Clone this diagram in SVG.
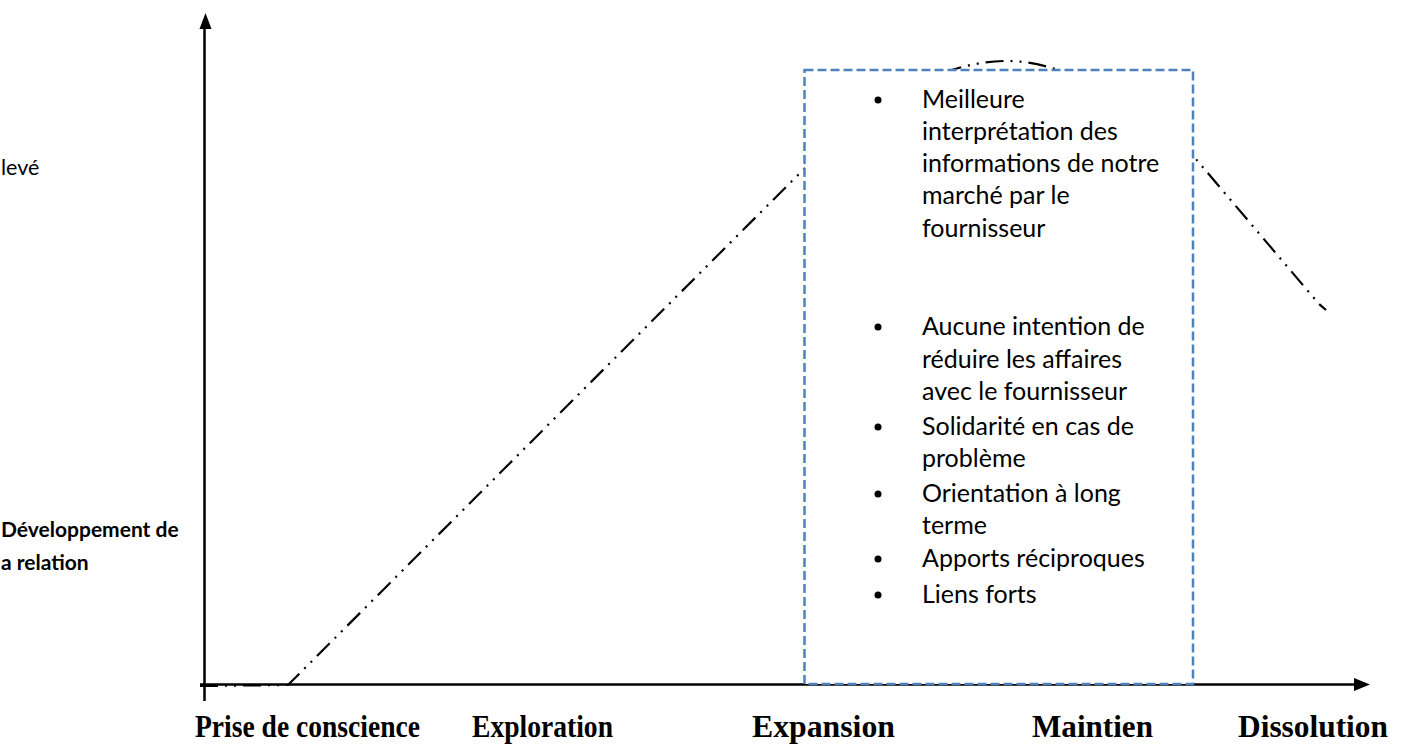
<svg xmlns="http://www.w3.org/2000/svg" width="1402" height="745" viewBox="0 0 1402 745">
<style>
.axis{stroke:#000;stroke-width:2.5;fill:none}
.curve{stroke:#000;stroke-width:2.2;fill:none;stroke-dasharray:18 7 2 7 2 7}
.box{fill:#fff;stroke:#4F81BD;stroke-width:2.5;stroke-dasharray:9 4}
.item{font-family:Lato,"Liberation Sans",sans-serif;font-size:25px;fill:#000}
.side{font-family:Lato,"Liberation Sans",sans-serif;font-size:21.5px;fill:#000}
.sideb{font-family:Lato,"Liberation Sans",sans-serif;font-size:21px;font-weight:bold;fill:#000}
.phase{font-family:"Liberation Serif","Times New Roman",serif;font-size:28px;font-weight:bold;fill:#000}
</style>
<rect width="1402" height="745" fill="#fff"/>
<g id="connectors">
<path class="curve" d="M200,686 L288,685 L806,167 C880,93 950,60 1010,61 C1065,62 1150,105 1195,158 L1319,304 L1326,310"/>
<line class="axis" x1="204.5" y1="701" x2="204.5" y2="27"/>
<polygon points="205.5,13 199.5,29 211.5,29" fill="#000"/>
<line class="axis" x1="200" y1="684.5" x2="1356" y2="684.5"/>
<polygon points="1370,684.5 1354,678 1354,691" fill="#000"/>
</g>
<g id="box">
<rect class="box" x="804.5" y="70" width="388.5" height="614"/>
<g id="bullets" fill="#000">
<circle cx="878" cy="100" r="3.5"/>
<circle cx="878" cy="327" r="3.5"/>
<circle cx="878" cy="427" r="3.5"/>
<circle cx="878" cy="494" r="3.5"/>
<circle cx="878" cy="559" r="3.5"/>
<circle cx="878" cy="595" r="3.5"/>
</g>
<text class="item" x="922" y="108">Meilleure</text>
<text class="item" x="922" y="140">interprétation des</text>
<text class="item" x="922" y="172">informations de notre</text>
<text class="item" x="922" y="204">marché par le</text>
<text class="item" x="922" y="237">fournisseur</text>
<text class="item" x="922" y="335">Aucune intention de</text>
<text class="item" x="922" y="368">réduire les affaires</text>
<text class="item" x="922" y="400">avec le fournisseur</text>
<text class="item" x="922" y="435">Solidarité en cas de</text>
<text class="item" x="922" y="467">problème</text>
<text class="item" x="922" y="502">Orientation à long</text>
<text class="item" x="922" y="534">terme</text>
<text class="item" x="922" y="567">Apports réciproques</text>
<text class="item" x="922" y="603">Liens forts</text>
</g>
<g id="yaxis-labels">
<text class="side" x="1" y="175">levé</text>
<text class="sideb" x="1" y="537">Développement de</text>
<text class="sideb" x="1" y="570">a relation</text>
</g>
<g id="phases" transform="translate(0,737) scale(1,1.12) translate(0,-737)">
<text class="phase" x="195" y="737" textLength="225" lengthAdjust="spacingAndGlyphs">Prise de conscience</text>
<text class="phase" x="472" y="737" textLength="141" lengthAdjust="spacingAndGlyphs">Exploration</text>
<text class="phase" x="752" y="737" textLength="143" lengthAdjust="spacingAndGlyphs">Expansion</text>
<text class="phase" x="1032" y="737" textLength="121" lengthAdjust="spacingAndGlyphs">Maintien</text>
<text class="phase" x="1238" y="737" textLength="150" lengthAdjust="spacingAndGlyphs">Dissolution</text>
</g>
</svg>
